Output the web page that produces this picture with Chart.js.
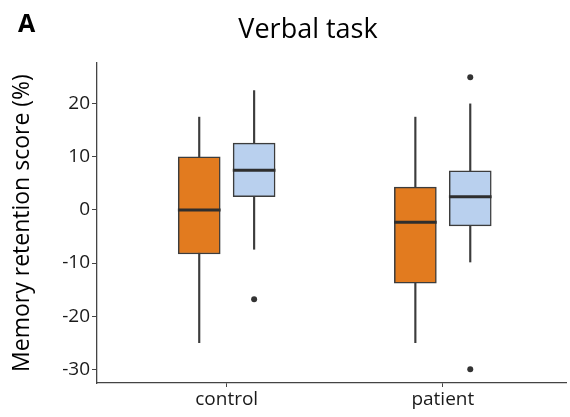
<!DOCTYPE html>
<html>
<head>
<meta charset="utf-8">
<script src="https://cdn.jsdelivr.net/npm/chart.js@4.4.1/dist/chart.umd.min.js"></script>
<style>
  html, body { margin: 0; padding: 0; background: #fff; overflow: hidden; }
  #wrap { width: 570px; height: 417px; position: relative; }
</style>
</head>
<body>
<div id="wrap"><canvas id="boxChart"></canvas></div>
<script>
// Datos
const groups = ['control', 'patient'];
const yTicks = [-30, -20, -10, 0, 10, 20];

// orange (first box of each group)
const orangeLow = [-25, -25];
const orangeQ1 = [-8.3, -13.8];
const orangeMed = [0, -2.3];
const orangeQ3 = [10, 4.3];
const orangeHigh = [17.5, 17.5];
const orangeOut = [[], []];

// blue (second box of each group)
const blueLow = [-7.4, -9.8];
const blueQ1 = [2.5, -3];
const blueMed = [7.5, 2.5];
const blueQ3 = [12.6, 7.4];
const blueHigh = [22.5, 20];
const blueOut = [[-16.8], [25, -30]];

const DODGE = 0.127;
const ORANGE = '#E27B1F';
const BLUE = '#B9D0EE';
const LINE = '#3c3c3c';

function series(fn) {
    return groups.map((g, i) => fn(i));
}

function boxDatasets(off, low, q1, med, q3, high, out, fill) {
    return [
        {
            type: 'bar',
            data: series(i => ({ x: i + 1 + off, y: [low[i], high[i]] })),
            backgroundColor: LINE,
            barThickness: 1.5,
            grouped: false,
            order: 3
        },
        {
            type: 'bar',
            data: series(i => ({ x: i + 1 + off, y: [q1[i], q3[i]] })),
            backgroundColor: fill,
            borderColor: LINE,
            borderWidth: 1.5,
            borderSkipped: false,
            barThickness: 42,
            grouped: false,
            order: 2
        },
        {
            type: 'bar',
            data: series(i => ({ x: i + 1 + off, y: [med[i] - 0.22, med[i] + 0.22] })),
            backgroundColor: '#2e2e2e',
            barThickness: 42,
            grouped: false,
            order: 1
        },
        {
            type: 'scatter',
            data: out.flatMap((vals, i) => vals.map(v => ({ x: i + 1 + off, y: v }))),
            backgroundColor: '#333333',
            borderWidth: 0,
            pointRadius: 3,
            order: 0
        }
    ];
}

// Textos del encabezado
const headerPlugin = {
    id: 'header',
    afterDraw(chart) {
        const ctx = chart.ctx;
        ctx.save();
        ctx.fillStyle = '#000';
        ctx.textBaseline = 'alphabetic';
        ctx.font = 'bold 25px "Open Sans"';
        ctx.textAlign = 'left';
        ctx.fillText('A', 18, 32);
        ctx.font = '27px "Open Sans"';
        ctx.textAlign = 'center';
        ctx.fillText('Verbal task', 308, 38);
        ctx.restore();
    }
};

const ctx = document.getElementById('boxChart').getContext('2d');
const boxChart = new Chart(ctx, {
    type: 'bar',
    data: {
        datasets: [
            ...boxDatasets(-DODGE, orangeLow, orangeQ1, orangeMed, orangeQ3, orangeHigh, orangeOut, ORANGE),
            ...boxDatasets(DODGE, blueLow, blueQ1, blueMed, blueQ3, blueHigh, blueOut, BLUE)
        ]
    },
    options: {
        responsive: true,
        maintainAspectRatio: false,
        animation: false,
        layout: { padding: { top: 63, left: 0, right: -4, bottom: 0 } },
        plugins: {
            legend: { display: false },
            tooltip: { enabled: false }
        },
        scales: {
            x: {
                type: 'linear',
                offset: false,
                min: 0.4,
                max: 2.57,
                afterBuildTicks: scale => { scale.ticks = groups.map((g, i) => ({ value: i + 1 })); },
                afterFit: scale => { scale.height = 34; },
                ticks: {
                    callback: v => groups[v - 1],
                    color: '#1a1a1a',
                    font: { family: 'Open Sans', size: 19 },
                    padding: 1,
                    maxRotation: 0,
                    autoSkip: false
                },
                grid: { display: true, offset: false, drawOnChartArea: false, drawTicks: true, tickLength: 4, color: '#444' },
                border: { display: true, color: '#444', width: 1.3 }
            },
            y: {
                min: -32.6,
                max: 27.7,
                afterBuildTicks: scale => { scale.ticks = yTicks.map(v => ({ value: v })); },
                afterFit: scale => { scale.width = 97; },
                ticks: {
                    color: '#1a1a1a',
                    font: { family: 'Open Sans', size: 19 },
                    padding: 2
                },
                grid: { display: true, drawOnChartArea: false, drawTicks: true, tickLength: 5, color: '#444' },
                border: { display: true, color: '#444', width: 1.3 },
                title: {
                    display: true,
                    text: 'Memory retention score (%)',
                    color: '#000',
                    font: { family: 'Open Sans', size: 23 },
                    padding: { top: 9, bottom: 0 }
                }
            }
        }
    },
    plugins: [headerPlugin]
});
</script>
</body>
</html>
